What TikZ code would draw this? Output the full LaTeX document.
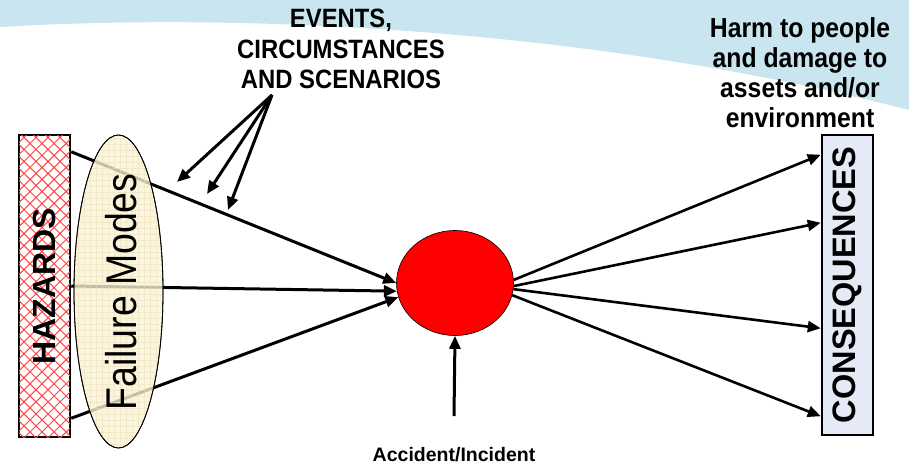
\documentclass[tikz,border=0pt]{standalone}
\usepackage{fontspec}
\setmainfont{Liberation Sans}
\newfontfamily\narrowfont[FakeStretch=0.87]{Liberation Sans}
\newfontfamily\narrowbold[FakeStretch=0.9]{Liberation Sans Bold}
\usetikzlibrary{arrows.meta,patterns.meta,shapes.geometric}
\definecolor{bgblue}{RGB}{200,229,240}
\definecolor{creamfill}{RGB}{248,242,216}
\definecolor{gridline}{RGB}{236,222,176}
\definecolor{consfill}{RGB}{229,234,246}
\definecolor{hatchred}{RGB}{255,70,70}
\tikzset{
  link/.style={line width=3pt,-{Triangle[length=13pt,width=11pt]}},
  outlink/.style={line width=2.6pt,-{Triangle[length=13pt,width=11pt]}},
  sidebox/.style={draw=black,line width=2.5pt,minimum width=51pt,inner sep=0pt},
  bigtxt/.style={font=\narrowbold\fontsize{26.5}{30.5}\selectfont,align=center,text=black},
}
\begin{document}
\begin{tikzpicture}[x=1pt,y=-1pt]
\useasboundingbox (0,0) rectangle (909,474);
% background band
\fill[bgblue] (0,0) -- (0,27) .. controls (250,12) and (600,30) .. (909,110) -- (909,0) -- cycle;

% hazards box
\node[sidebox,minimum height=302pt,fill=white,postaction={pattern={Hatch[angle=45,distance=8.5pt,line width=1pt]},pattern color=hatchred}] (haz) at (44.5,286) {};
\node[rotate=90,font=\bfseries\fontsize{32}{34}\selectfont] (hazt) at (haz.center) {HAZARDS};

% accident circle
\node[ellipse,draw=black,line width=0.6pt,fill=red,minimum width=117pt,minimum height=105pt,inner sep=0pt] (acc) at (455,283) {};

% consequences box
\node[sidebox,minimum height=300pt,fill=consfill] (cons) at (847.5,285) {};
\node[rotate=90,font=\bfseries\fontsize{32.5}{34}\selectfont] (const) at (cons.center) {CONSEQUENCES};

% lines from hazards to accident
\draw[link] ([yshift=-18pt]haz.north east) -- (acc.180);
\draw[link] (haz.east) -- (acc.188);
\draw[link] ([yshift=20pt]haz.south east) -- (acc.194);

% failure modes ellipse (semi transparent over lines)
\node[ellipse,draw=black,line width=0.8pt,fill=creamfill,fill opacity=0.78,minimum width=89pt,minimum height=313pt,inner sep=0pt] (fm) at (118.5,291.5) {};
\path[pattern={Hatch[angle=0,distance=6pt,line width=0.4pt]},pattern color=gridline,opacity=0.5] (fm.center) ellipse [x radius=44pt,y radius=156pt];
\node[ellipse,draw=black,line width=0.8pt,minimum width=89pt,minimum height=313pt,inner sep=0pt] at (fm.center) {};
\node[rotate=90,font=\narrowfont\fontsize{43}{45}\selectfont] (fmt) at (121,292) {Failure Modes};

% lines from accident to consequences
\draw[outlink] (acc.3) -- ([yshift=-21pt]cons.north west);
\draw[outlink] (acc.-3) -- ([yshift=-89pt]cons.north west);
\draw[outlink] (acc.-6) -- ([yshift=108pt]cons.south west);
\draw[outlink] (acc.-12) -- ([yshift=20pt]cons.south west);

% accident label and arrow
\node[font=\bfseries\fontsize{19.5}{21}\selectfont] (acct) at (454,455) {Accident/Incident};
\draw[link] ([yshift=28pt]acct.north) -- (acc.south);

% events text and arrows
\node[bigtxt] (evt) at (341,49) {EVENTS,\\CIRCUMSTANCES\\AND SCENARIOS};
\coordinate (ev) at (272,95);
\coordinate (ev1) at (177,182);
\coordinate (ev2) at (207,194);
\coordinate (ev3) at (228,210);
\draw[link] (ev) -- (ev1);
\draw[link] (ev) -- (ev2);
\draw[link] (ev) -- (ev3);

% harm text
\node[bigtxt,font=\narrowbold\fontsize{27.5}{30}\selectfont] (harm) at (800,73) {Harm to people\\and damage to\\assets and/or\\environment};
\end{tikzpicture}
\end{document}
